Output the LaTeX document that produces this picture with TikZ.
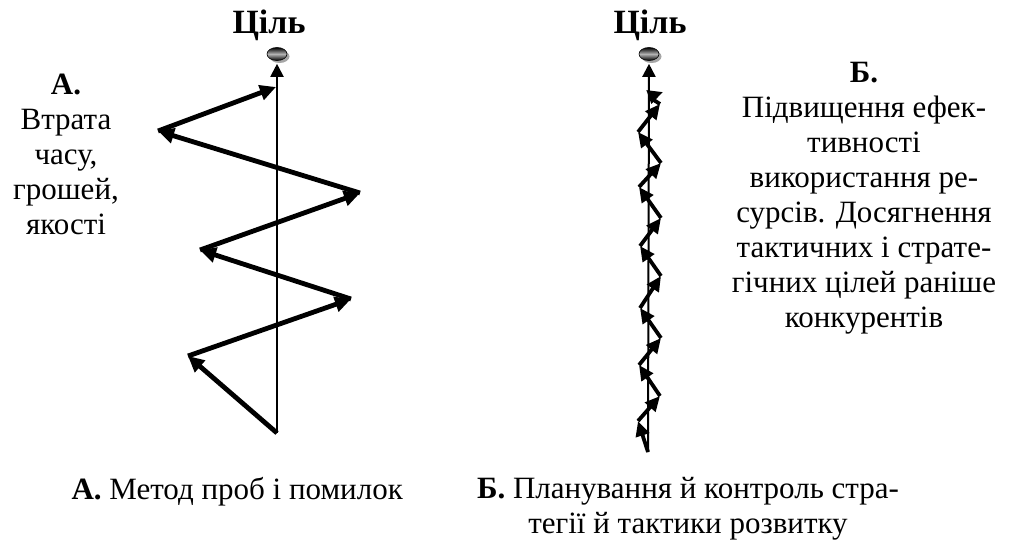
\documentclass[tikz,border=0pt]{standalone}
\usepackage{fontspec}
\setmainfont{Liberation Serif}
\usetikzlibrary{arrows.meta,shapes.geometric,shadows}
\begin{document}
\begin{tikzpicture}[x=1pt,y=-1pt,
  txt/.style={font=\fontsize{31}{35}\selectfont, inner sep=0pt, align=center},
  title/.style={font=\bfseries\fontsize{34}{38}\selectfont, inner sep=0pt},
  goal/.style={ellipse, minimum width=20pt, minimum height=13pt, inner sep=0pt,
    top color=black, bottom color=black, middle color=gray!60, draw=black, line width=0.6pt,
    drop shadow={shadow xshift=2.5pt, shadow yshift=-2.5pt, fill=gray!70, opacity=1}},
  axisline/.style={line width=2pt, -{Triangle[length=13pt,width=13pt]}},
  zigL/.style={line width=4.8pt, -{Triangle[length=16pt,width=15pt]}},
  zigR/.style={line width=3.8pt, -{Triangle[length=15pt,width=13.5pt]}},
  plainR/.style={line width=3.8pt},
]
\useasboundingbox (0,0) rectangle (1012,539);

% goals
\node[goal] (goalL) at (277,54) {};
\node[goal] (goalR) at (649,54) {};
\node[title, anchor=base] (tL) at (269,33) {Ціль};
\node[title, anchor=base] (tR) at (650,33) {Ціль};

% left: trial and error
\coordinate (a0) at (277,433);
\coordinate (a1) at (188,356);
\coordinate (a2) at (351,299);
\coordinate (a3) at (200,250);
\coordinate (a4) at (360,193);
\coordinate (a5) at (158,131);
\coordinate (a6) at (276,87);
\draw[axisline] (a0) -- ([yshift=-3pt]goalL.south);
\draw[zigL] (a0) -- (a1);
\draw[zigL] (a1) -- (a2);
\draw[zigL] (a2) -- (a3);
\draw[zigL] (a3) -- (a4);
\draw[zigL] (a4) -- (a5);
\draw[zigL] (a5) -- (a6);

% right: planning and control
\coordinate (r0) at (648,452);
\coordinate (r1) at (638,421);
\coordinate (r2) at (660,396);
\coordinate (r3) at (639,365);
\coordinate (r4) at (661,338);
\coordinate (r5) at (640,308);
\coordinate (r6) at (661,276);
\coordinate (r7) at (640,246);
\coordinate (r8) at (661,218);
\coordinate (r9) at (639,187);
\coordinate (r10) at (661,163);
\coordinate (r11) at (638,132);
\coordinate (r12) at (660,104);
\coordinate (r13) at (649,97);
\coordinate (r14) at (663,92);
\draw[axisline] (r0) -- ([yshift=-3pt]goalR.south);
\draw[zigR] (r0) -- (r1);
\draw[zigR] (r1) -- (r2);
\draw[zigR] (r2) -- (r3);
\draw[zigR] (r3) -- (r4);
\draw[zigR] (r4) -- (r5);
\draw[zigR] (r5) -- (r6);
\draw[zigR] (r6) -- (r7);
\draw[zigR] (r7) -- (r8);
\draw[zigR] (r8) -- (r9);
\draw[zigR] (r9) -- (r10);
\draw[zigR] (r10) -- (r11);
\draw[zigR] (r11) -- (r12);
\draw[plainR] (r12) -- (r13);
\draw[zigR] (r13) -- (r14);

% texts
\node[txt, anchor=north] (lossA) at (66,74) {\textbf{А.}\\Втрата\\часу,\\грошей,\\якості};
\node[txt, anchor=north] (gainB) at (864,62) {\textbf{Б.}\\Підвищення ефек-\\тивності\\використання ре-\\сурсів. Досягнення\\тактичних і страте-\\гічних цілей раніше\\конкурентів};
\node[txt, anchor=north east] (capA) at (403,477) {\textbf{А.} Метод проб і помилок};
\node[txt, anchor=north] (capB) at (688,477) {\textbf{Б.} Планування й контроль стра-\\тегії й тактики розвитку};
\end{tikzpicture}
\end{document}
